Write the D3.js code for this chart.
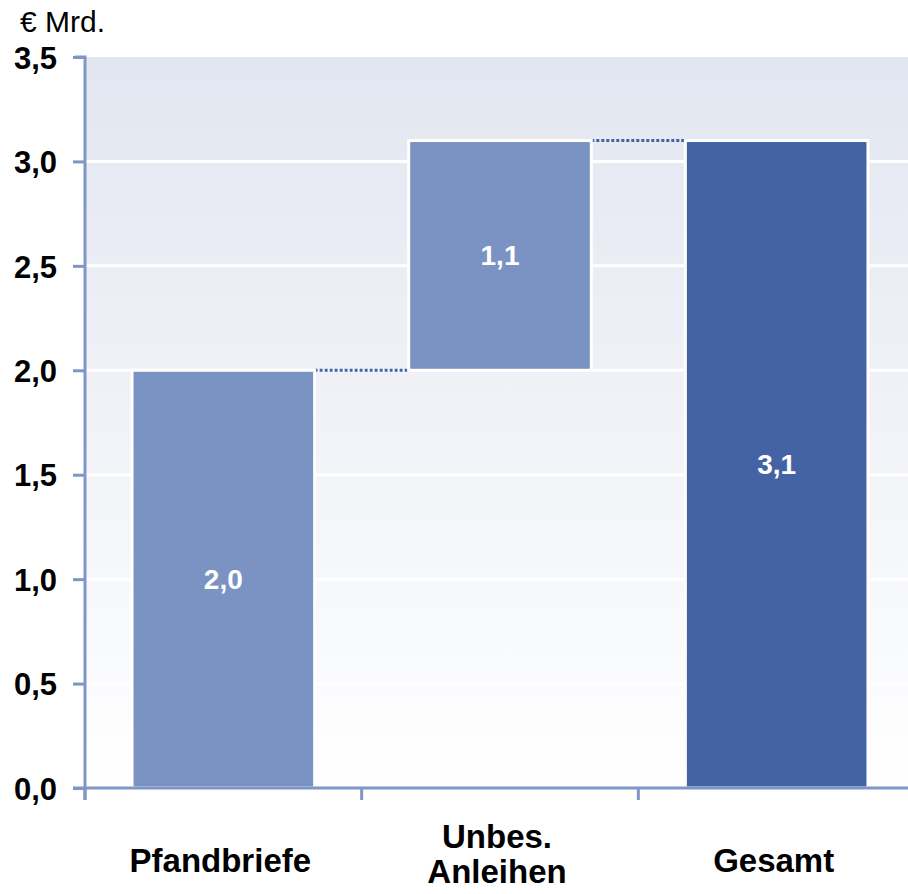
<!DOCTYPE html>
<html>
<head>
<meta charset="utf-8">
<script src="https://cdn.jsdelivr.net/npm/d3@7"></script>
<style>
  body { margin: 0; background: #fff; }
  text { font-family: "Liberation Sans", Arial, sans-serif; }
</style>
</head>
<body>
<div class="content"></div>
<script>
// data
const categories = ['Pfandbriefe', 'Unbes. Anleihen', 'Gesamt'];
const starts = [0, 2.0, 0];
const values = [2.0, 1.1, 3.1];
const valueLabels = ['2,0', '1,1', '3,1'];
const yTicks = [0, 0.5, 1, 1.5, 2, 2.5, 3, 3.5];

function main() {
  const svgW = 908, svgH = 894;
  const svg = d3.select('.content').append('svg')
    .attr('width', svgW).attr('height', svgH);

  const x = d3.scaleBand().domain(categories).range([85, 915]).paddingInner(0).paddingOuter(0);
  const y = d3.scaleLinear().domain([0, 3.5]).range([788, 57]);
  const barW = x.bandwidth() * 0.66;

  // background gradient
  const grad = svg.append('defs').append('linearGradient')
    .attr('id', 'bg').attr('x1', 0).attr('y1', 0).attr('x2', 0).attr('y2', 1);
  grad.append('stop').attr('offset', '0%').attr('stop-color', '#e2e6f0');
  grad.append('stop').attr('offset', '100%').attr('stop-color', '#ffffff');
  svg.append('rect').attr('x', 85).attr('y', y(3.5))
    .attr('width', svgW - 85).attr('height', y(0) - y(3.5))
    .attr('fill', 'url(#bg)');

  // grid lines
  svg.append('g').selectAll('line').data(yTicks.slice(1, -1)).join('line')
    .attr('x1', 85).attr('x2', svgW)
    .attr('y1', d => y(d)).attr('y2', d => y(d))
    .attr('stroke', '#fff').attr('stroke-width', 3);

  // connectors (dotted)
  const conn = [[0, 1, 2.0], [1, 2, 3.1]];
  svg.append('g').selectAll('line').data(conn).join('line')
    .attr('x1', d => x(categories[d[0]]) + x.bandwidth() / 2 + barW / 2)
    .attr('x2', d => x(categories[d[1]]) + x.bandwidth() / 2 - barW / 2)
    .attr('y1', d => y(d[2])).attr('y2', d => y(d[2]))
    .attr('stroke', '#4363a5').attr('stroke-width', 3)
    .attr('stroke-dasharray', '3,2');

  // bars
  const colors = ['#7b93c3', '#7b93c3', '#4363a5'];
  svg.append('g').selectAll('rect').data(categories).join('rect')
    .attr('x', d => x(d) + x.bandwidth() / 2 - barW / 2)
    .attr('width', barW)
    .attr('y', (d, i) => y(starts[i] + values[i]))
    .attr('height', (d, i) => y(starts[i]) - y(starts[i] + values[i]))
    .attr('fill', (d, i) => colors[i])
    .attr('stroke', '#fff').attr('stroke-width', 3);

  // value labels
  svg.append('g').selectAll('text').data(categories).join('text')
    .attr('x', d => x(d) + x.bandwidth() / 2)
    .attr('y', (d, i) => y(starts[i] + values[i] / 2) + 10)
    .attr('text-anchor', 'middle')
    .attr('fill', '#fff').attr('font-weight', 'bold').attr('font-size', 28)
    .text((d, i) => valueLabels[i]);

  // axes
  const axisColor = '#7f96c6';
  const yAxis = svg.append('g').attr('transform', 'translate(85,0)')
    .call(d3.axisLeft(y).tickValues(yTicks).tickSize(12).tickPadding(16)
      .tickFormat(d => d3.format('.1f')(d).replace('.', ',')));
  yAxis.select('.domain').attr('stroke', axisColor).attr('stroke-width', 3)
    .attr('d', 'M-10,' + y(3.5) + 'H0V' + (y(0) + 12));
  yAxis.selectAll('.tick line').attr('stroke', axisColor).attr('stroke-width', 3);
  yAxis.selectAll('.tick text').attr('fill', '#000').attr('font-weight', 'bold')
    .attr('font-size', 31).attr('dy', '0.36em')
    .attr('font-family', '"Liberation Sans", Arial, sans-serif');

  const xAxis = svg.append('g').attr('transform', 'translate(0,' + y(0) + ')');
  xAxis.append('line').attr('x1', 73).attr('x2', svgW)
    .attr('stroke', axisColor).attr('stroke-width', 3);
  xAxis.selectAll('.xt').data([0, 1, 2]).join('line').attr('class', 'xt')
    .attr('x1', i => x(categories[i])).attr('x2', i => x(categories[i]))
    .attr('y1', 0).attr('y2', 12)
    .attr('stroke', axisColor).attr('stroke-width', 3);

  // category labels
  const catLines = [['Pfandbriefe'], ['Unbes.', 'Anleihen'], ['Gesamt']];
  const catY = [872, 848, 872];
  categories.forEach((c, i) => {
    const t = svg.append('text')
      .attr('x', x(c) + x.bandwidth() / 2 - 3)
      .attr('y', catY[i])
      .attr('text-anchor', 'middle')
      .attr('font-weight', 'bold').attr('font-size', 33).attr('fill', '#000');
    catLines[i].forEach((l, j) => {
      t.append('tspan').attr('x', x(c) + x.bandwidth() / 2 - 3)
        .attr('dy', j === 0 ? 0 : 35).text(l);
    });
  });

  // unit label
  svg.append('text').attr('x', 20).attr('y', 32)
    .attr('font-size', 30).attr('fill', '#000').text('€ Mrd.');
}
main();
</script>
</body>
</html>
